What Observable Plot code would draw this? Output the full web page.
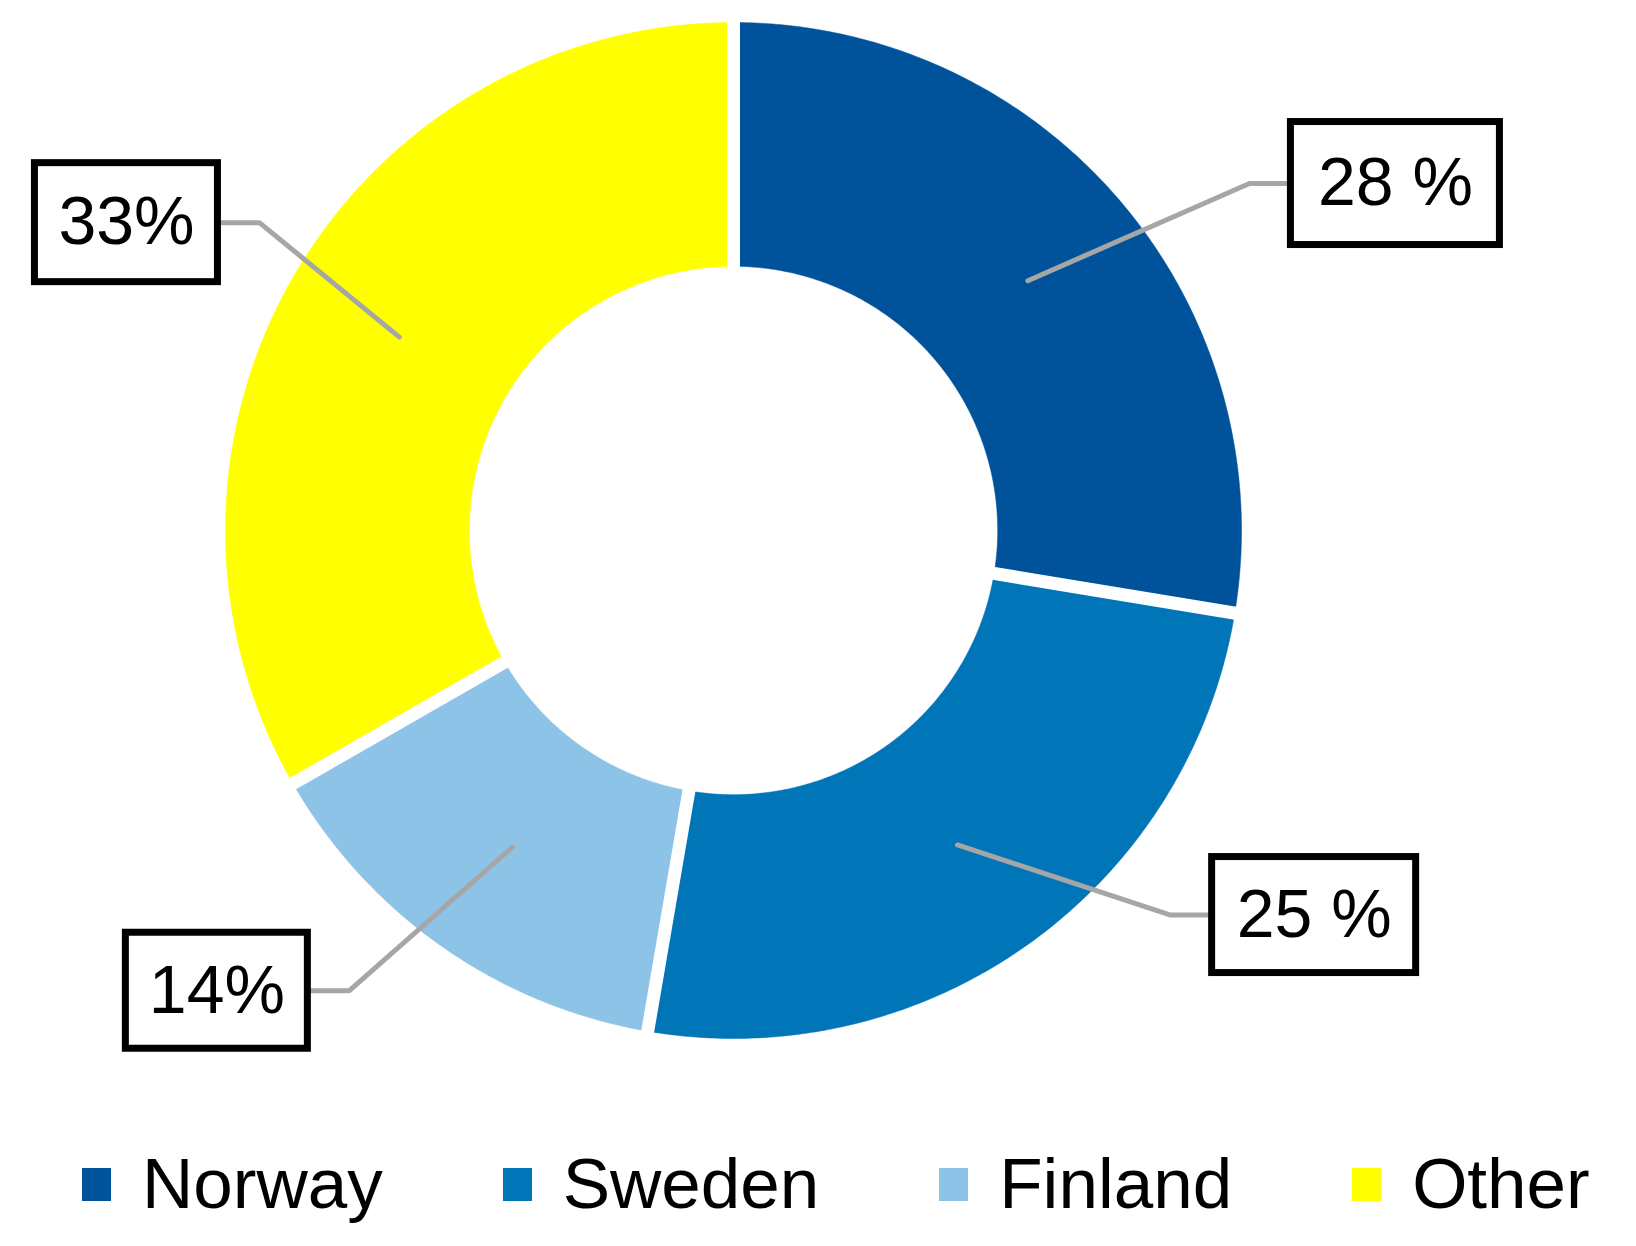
<!DOCTYPE html>
<html>
<head>
<meta charset="utf-8">
<script src="https://cdn.jsdelivr.net/npm/d3@7"></script>
<script src="https://cdn.jsdelivr.net/npm/@observablehq/plot@0.6"></script>
<style>
  html, body { margin: 0; padding: 0; background: #fff; }
  body { width: 1636px; height: 1246px; overflow: hidden; font-family: "Liberation Sans", Arial, sans-serif; }
  #legend { display: flex; gap: 120px; padding: 18px 0 0 82px; box-sizing: border-box; height: 116px; }
  .item { display: flex; align-items: flex-start; }
  .sw { width: 29px; height: 33px; margin-top: 20px; margin-right: 31px; }
  .lt { font-size: 71px; line-height: 71px; color: #000; white-space: nowrap; }
</style>
</head>
<body>
<div id="chart"></div>
<div id="legend"></div>
<script>
// ---- data ----
const countries = ["Norway", "Sweden", "Finland", "Other"];
const shares = [27.6, 25.1, 14.0, 33.3];       // slice sizes
const labels = ["28 %", "25 %", "14%", "33%"];  // printed labels
const colors = ["#00539B", "#0075B8", "#8DC3E6", "#FFFF00"];

// ---- layout (pixels / radius units) ----
const W = 1636, H = 1130, CX = 733, CY = 530, R = 508, INNER = 0.52;
const labelLayout = [
  { u: 1.303, v: 0.683, w: 216, h: 130 },
  { u: 1.143, v: -0.757, w: 211, h: 123 },
  { u: -1.017, v: -0.906, w: 189, h: 123 },
  { u: -1.195, v: 0.606, w: 190, h: 126 }
];
const ELBOW = 38; // px between elbow and box edge

const total = d3.sum(shares);
const starts = d3.cumsum([0, ...shares]).slice(0, shares.length).map(s => s / total * 2 * Math.PI);
const ends = starts.map((s, i) => s + shares[i] / total * 2 * Math.PI);

// slice polygons (angle clockwise from top)
const slicePts = [];
countries.forEach((name, i) => {
  const a0 = starts[i], a1 = ends[i];
  const n = Math.max(2, Math.ceil((a1 - a0) / (Math.PI / 360)));
  for (let k = 0; k <= n; k++) {
    const a = a0 + (a1 - a0) * k / n;
    slicePts.push({ name, x: Math.sin(a), y: Math.cos(a) });
  }
  for (let k = n; k >= 0; k--) {
    const a = a0 + (a1 - a0) * k / n;
    slicePts.push({ name, x: INNER * Math.sin(a), y: INNER * Math.cos(a) });
  }
});

// white gaps between slices
const sepPts = [];
starts.forEach((a, i) => {
  sepPts.push({ id: i, x: 0.45 * Math.sin(a), y: 0.45 * Math.cos(a) });
  sepPts.push({ id: i, x: 1.05 * Math.sin(a), y: 1.05 * Math.cos(a) });
});

// leader lines and boxes
const rc = (1 + INNER) / 2;
const leaderPts = [];
const boxes = countries.map((name, i) => {
  const L = labelLayout[i];
  const m = (starts[i] + ends[i]) / 2;
  const right = L.u > 0;
  const edge = right ? L.u - L.w / 2 / R : L.u + L.w / 2 / R;
  const elbow = right ? edge - ELBOW / R : edge + ELBOW / R;
  leaderPts.push({ name, x: rc * Math.sin(m), y: rc * Math.cos(m) });
  leaderPts.push({ name, x: elbow, y: L.v });
  leaderPts.push({ name, x: edge, y: L.v });
  return {
    name, label: labels[i], u: L.u, v: L.v,
    x1: L.u - L.w / 2 / R, x2: L.u + L.w / 2 / R,
    y1: L.v - L.h / 2 / R, y2: L.v + L.h / 2 / R
  };
});

const chart = Plot.plot({
  width: W,
  height: H,
  margin: 0,
  x: { domain: [-CX / R, (W - CX) / R], range: [0, W], axis: null },
  y: { domain: [(CY - H) / R, CY / R], range: [H, 0], axis: null },
  marks: [
    ...countries.map((c, i) =>
      Plot.line(slicePts.filter(d => d.name === c), {
        x: "x", y: "y", fill: colors[i], stroke: colors[i], strokeWidth: 0.5
      })
    ),
    Plot.line(sepPts, {
      x: "x", y: "y", z: "id", stroke: "white", strokeWidth: 13, strokeLinecap: "butt"
    }),
    Plot.line(leaderPts, {
      x: "x", y: "y", z: "name", stroke: "#A6A6A6", strokeWidth: 5, strokeLinejoin: "miter"
    }),
    Plot.rect(boxes, {
      x1: "x1", x2: "x2", y1: "y1", y2: "y2",
      fill: "white", stroke: "black", strokeWidth: 7, inset: 3.5
    }),
    Plot.text(boxes, {
      x: "u", y: "v", text: "label", fontSize: 68,
      fontFamily: "Liberation Sans, Arial, sans-serif", fill: "black"
    })
  ]
});
document.getElementById("chart").appendChild(chart);

// legend
const legend = d3.select("#legend");
countries.forEach((c, i) => {
  const it = legend.append("div").attr("class", "item");
  it.append("div").attr("class", "sw").style("background", colors[i]);
  it.append("div").attr("class", "lt").text(c);
});
</script>
</body>
</html>
